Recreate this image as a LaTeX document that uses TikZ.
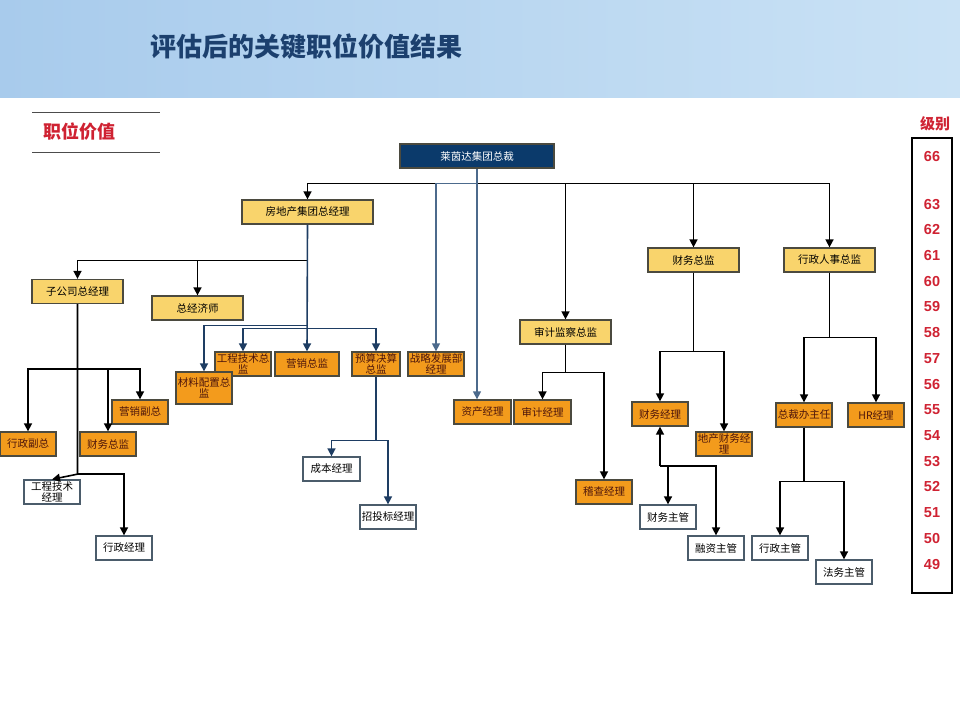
\documentclass[tikz,border=0pt]{standalone}
\usepackage{fontspec}
\usepackage{tikz}
\usetikzlibrary{arrows.meta,positioning,calc}
\newfontfamily\cjk{Noto Sans CJK SC}
\newfontfamily\numfont{Liberation Sans}
\definecolor{HeadLeft}{HTML}{A8CBEC}
\definecolor{HeadRight}{HTML}{CAE2F5}
\definecolor{TitleBlue}{HTML}{1C406E}
\definecolor{LevelRed}{HTML}{CF2232}
\definecolor{TopFill}{HTML}{0B3A6B}
\definecolor{LightFill}{HTML}{F9D46C}
\definecolor{DeepFill}{HTML}{F39B1C}
\definecolor{DeepText}{HTML}{4D150B}
\definecolor{BoxLine}{HTML}{4B4A3F}
\definecolor{WhiteLine}{HTML}{4B5C6B}
\definecolor{NavyLine}{HTML}{1E3D63}
\definecolor{SlateLine}{HTML}{4C6A8C}

\begin{document}
\begin{tikzpicture}[x=1pt,y=-1pt, every node/.style={font=\cjk\fontsize{10.5}{11}\selectfont},
  post/.style={draw=BoxLine,line width=1.3pt,minimum width=56pt,minimum height=24pt,inner sep=1pt,align=center},
  lightpost/.style={post,fill=LightFill,text=black,minimum width=91pt},
  deeppost/.style={post,fill=DeepFill,text=DeepText},
  whitepost/.style={post,draw=WhiteLine,fill=white,text=black},
  link/.style={line width=1.6pt,-{Triangle[length=8pt,width=8pt]}},
  navylink/.style={link,draw=NavyLine},
  slatelink/.style={link,draw=SlateLine,line width=1.4pt}]
  \useasboundingbox (0,0) rectangle (960,720);
  \shade[left color=HeadLeft,right color=HeadRight] (0,0) rectangle (960,97);
  \node[font=\cjk\bfseries\fontsize{26}{30}\selectfont,text=TitleBlue] (title) at (306,47) {评估后的关键职位价值结果};
  \draw[line width=1pt,black!70] (32,112) -- (160,112) (32,152) -- (160,152);
  \node[font=\cjk\bfseries\fontsize{18}{20}\selectfont,text=LevelRed] (zwjz) at (79,132) {职位价值};

  \node[post,fill=TopFill,text=white,minimum width=154pt] (top) at (477,156) {莱茵达集团总裁};
  \node[lightpost,minimum width=131pt] (fdc) at (307.5,212) {房地产集团总经理};
  \node[lightpost] (zgs) at (77.5,291.5) {子公司总经理};
  \node[lightpost] (jjs) at (197.5,308) {总经济师};
  \node[lightpost] (sj) at (565.5,332) {审计监察总监};
  \node[lightpost] (cw) at (693.5,260) {财务总监};
  \node[lightpost] (xr) at (829.5,260) {行政人事总监};

  \node[deeppost] (gc) at (243,364) {工程技术总\\监};
  \node[deeppost,minimum width=64pt] (yx) at (307,364) {营销总监};
  \node[deeppost,minimum width=48pt] (ys) at (376,364) {预算决算\\总监};
  \node[deeppost] (zl) at (436,364) {战略发展部\\经理};
  \node[deeppost,minimum height=32pt] (cl) at (204,388) {材料配置总\\监};
  \node[deeppost,minimum width=57pt] (zc) at (482.5,412) {资产经理};
  \node[deeppost,minimum width=57pt] (sjj) at (542.5,412) {审计经理};
  \node[deeppost] (jc) at (604,492) {稽查经理};
  \node[deeppost] (cwj) at (660,414) {财务经理};
  \node[deeppost] (dcw) at (724,444) {地产财务经\\理};
  \node[deeppost] (zcb) at (804,415) {总裁办主任};
  \node[deeppost] (hr) at (876,415) {HR经理};
  \node[deeppost] (xzf) at (28,444) {行政副总};
  \node[deeppost] (cwl) at (108,444) {财务总监};
  \node[deeppost] (yxf) at (140,412) {营销副总};

  \node[whitepost] (gjl) at (52,492) {工程技术\\经理};
  \node[whitepost] (xzj) at (124,548) {行政经理};
  \node[whitepost,minimum width=57pt] (cb) at (331.5,469) {成本经理};
  \node[whitepost] (ztb) at (388,517) {招投标经理};
  \node[whitepost] (cwzg) at (668,517) {财务主管};
  \node[whitepost] (rzzg) at (716,548) {融资主管};
  \node[whitepost] (xzzg) at (780,548) {行政主管};
  \node[whitepost] (fwzg) at (844,572) {法务主管};

  \draw[link] (top.south) -- ++(0,15) -| (fdc.north);
  \foreach \dst in {sj,cw,xr}
    \draw[link] (top.south) ++(0,15) -| (\dst.north);
  \draw[slatelink] (top.south) ++(0,15) -| (zl.north);
  \draw[slatelink] (top.south) -- (top.south |- zc.north);

  \draw[link] (fdc.south) -- ++(0,36) -| (zgs.north);
  \draw[link] (fdc.south) ++(0,36) -| (jjs.north);
  \draw[navylink] (fdc.south) -- (yx.north);
  \draw[navylink] (fdc.south) ++(0,101) -| (cl.north);
  \foreach \dst in {gc,ys}
    \draw[navylink] (fdc.south) ++(0,104) -| (\dst.north);
  \foreach \dst in {cb,ztb}
    \draw[navylink] (ys.south) -- ++(0,64) -| (\dst.north);

  \foreach \dst in {xzf,cwl,yxf}
    \draw[link] (zgs.south) -- ++(0,65) -| (\dst.north);
  \draw[link] (zgs.south) -- ++(0,170) -- (gjl.north);
  \draw[link] (zgs.south) ++(0,170) -| (xzj.north);

  \foreach \dst in {sjj,jc}
    \draw[link] (sj.south) -- ++(0,28) -| (\dst.north);
  \foreach \dst in {cwj,dcw}
    \draw[link] (cw.south) -- ++(0,79) -| (\dst.north);
  \coordinate (cwbus) at (660,466);
  \draw[link] (cwbus) -- (cwj.south);
  \draw[link] (cwbus) -| (rzzg.north);
  \draw[link] (cwbus -| cwzg.north) -- (cwzg.north);
  \foreach \dst in {zcb,hr}
    \draw[link] (xr.south) -- ++(0,65) -| (\dst.north);
  \foreach \dst in {xzzg,fwzg}
    \draw[link] (zcb.south) -- ++(0,54) -| (\dst.north);

  \node[font=\cjk\bfseries\fontsize{15}{17}\selectfont,text=LevelRed] (jb) at (935,124) {级别};
  \draw[line width=1.8pt] (912,138) rectangle (952,593);
  \node[font=\numfont\bfseries\fontsize{14.5}{16}\selectfont,text=LevelRed] (lv66) at (932,157) {66};
  \foreach \lv in {49,...,63}
    \node[font=\numfont\bfseries\fontsize{14.5}{16}\selectfont,text=LevelRed] (lv\lv) at (932,{564-(\lv-49)*25.7}) {\lv};
\end{tikzpicture}
\end{document}
